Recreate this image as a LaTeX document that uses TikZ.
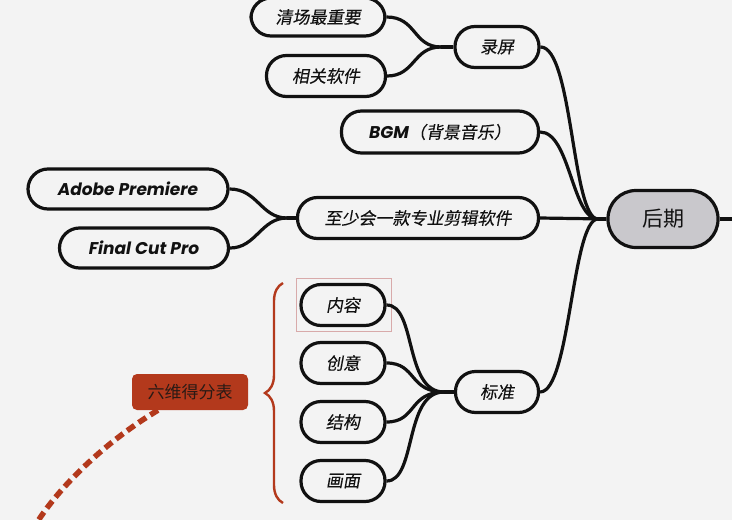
\documentclass[tikz,border=0pt]{standalone}
\usepackage{fontspec}
\newfontfamily\cjk{Noto Sans CJK SC}
\newfontfamily\cjki[FakeSlant=0.18,FakeBold=0.2]{Noto Sans CJK SC}
\newfontfamily\pop{Poppins}
\usetikzlibrary{decorations.pathreplacing}
\definecolor{bgc}{HTML}{F3F3F3}
\definecolor{ink}{HTML}{111111}
\definecolor{hqfill}{HTML}{C9C8CC}
\definecolor{redc}{HTML}{B3391C}
\definecolor{pinkc}{HTML}{D8AAAA}
\definecolor{redtext}{HTML}{2A1A15}
\tikzset{
  pill/.style={draw=ink, line width=3.2pt, rounded corners=20pt, minimum height=41pt,
    inner sep=0pt, text=ink, font=\cjki\fontsize{17}{17}\selectfont},
  latinpill/.style={pill, font=\pop\bfseries\itshape\fontsize{17}{17}\selectfont},
  conn/.style={draw=ink, line width=3.2pt},
}
\begin{document}
\begin{tikzpicture}[x=1pt,y=-1pt]
\fill[bgc] (0,0) rectangle (732,520);
\useasboundingbox (0,0) rectangle (732,520);

% central node
\node[pill, fill=hqfill, minimum width=110pt, minimum height=57pt, rounded corners=28pt,
  font=\cjk\fontsize{21}{21}\selectfont] (hq) at (663,219) {后期};

% first level
\node[pill, minimum width=84pt] (lp) at (497,47) {录屏};
\node[pill, minimum width=197pt, minimum height=42pt] (bgm) at (440,132) {{\pop\bfseries\itshape BGM}（背景音乐）};
\node[pill, minimum width=241pt] (zs) at (418,218) {至少会一款专业剪辑软件};
\node[pill, minimum width=83pt] (bz) at (497,392) {标准};

% second level
\node[pill, minimum width=134pt, minimum height=38pt] (qc) at (318,17) {清场最重要};
\node[pill, minimum width=119pt] (xg) at (326,76) {相关软件};
\node[latinpill, minimum width=200pt, minimum height=40pt] (ap) at (128,189) {Adobe Premiere};
\node[latinpill, minimum width=169pt, minimum height=40pt] (fc) at (144,248) {Final Cut Pro};
\node[pill, minimum width=84pt] (nr) at (343,305) {内容};
\node[pill, minimum width=84pt] (cy) at (343,363) {创意};
\node[pill, minimum width=84pt] (jg) at (343,422) {结构};
\node[pill, minimum width=84pt] (hm) at (343,481) {画面};

% highlight around 内容
\node[draw=pinkc, line width=1pt, minimum width=95pt, minimum height=53pt, inner sep=0pt] (hl) at (343.5,304.5) {};

% join points
\coordinate (jl) at (441,47);
\coordinate (jz) at (287,218);
\coordinate (jb) at (444,392);
\coordinate (jh) at (598,219);
\coordinate (off) at (740,219);

% connectors to 录屏
\draw[conn] (qc.east) .. controls +(30,0) and +(-28,0) .. (jl);
\draw[conn] (xg.east) .. controls +(28,0) and +(-28,0) .. (jl);
\draw[conn] (jl) -- (lp.west);

% connectors to 至少会...
\draw[conn] (ap.east) .. controls +(28,0) and +(-26,0) .. (jz);
\draw[conn] (fc.east) .. controls +(26,0) and +(-26,0) .. (jz);
\draw[conn] (jz) -- (zs.west);

% connectors to 标准
\draw[conn] (nr.east) .. controls +(30,0) and +(-40,0) .. (jb);
\draw[conn] (cy.east) .. controls +(30,0) and +(-35,0) .. (jb);
\draw[conn] (jg.east) .. controls +(30,0) and +(-35,0) .. (jb);
\draw[conn] (hm.east) .. controls +(30,0) and +(-40,0) .. (jb);
\draw[conn] (jb) -- (bz.west);

% connectors to 后期
\draw[conn] (lp.east) .. controls +(32,0) and +(-26,0) .. (jh);
\draw[conn] (bgm.east) .. controls +(30,0) and +(-26,0) .. (jh);
\draw[conn] (bz.east) .. controls +(30,0) and +(-26,0) .. (jh);
\draw[conn] (zs.east) -- (hq.west);
\draw[conn] (jh) -- (hq.west);
\draw[conn] (hq.east) -- (off);

% brace
\coordinate (bb) at (283,503);
\coordinate (bt) at (283,283);
\draw[redc, line width=2.4pt, decorate, decoration={brace, amplitude=18pt}] (bb) -- (bt);

% red label
\node[fill=redc, rounded corners=5pt, minimum width=116pt, minimum height=36pt, inner sep=0pt,
  text=redtext, font=\cjk\fontsize{17}{17}\selectfont] (lw) at (190,392) {六维得分表};
\coordinate (dend) at (36,524);
\draw[redc, line width=5.5pt, dash pattern=on 9pt off 5pt]
  ([xshift=-32pt]lw.south) .. controls +(-50,30) and +(25,-40) .. (dend);
\end{tikzpicture}
\end{document}
